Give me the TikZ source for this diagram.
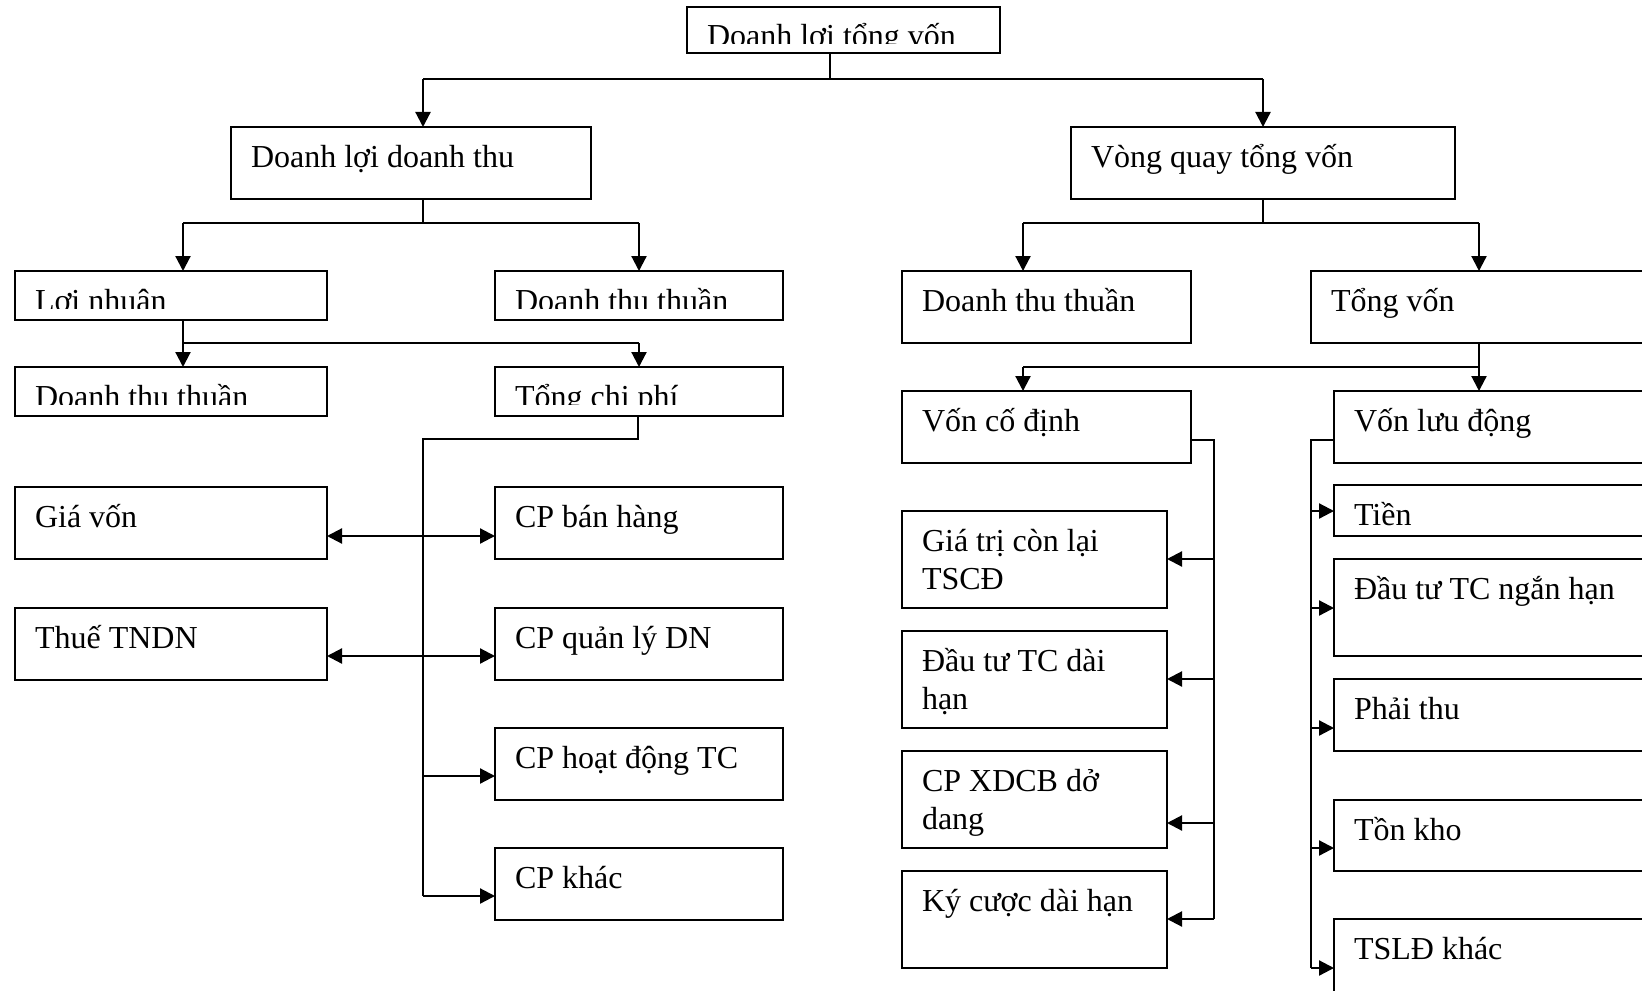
\documentclass[tikz,border=0pt]{standalone}
\usepackage{fontspec}
\setmainfont{Liberation Serif}
\usetikzlibrary{arrows.meta,calc}
\tikzset{
  box/.style={draw, line width=1pt, anchor=north west, inner sep=0pt, outer sep=0pt},
  lbl/.style={anchor=base west, inner sep=0pt, outer sep=0pt, font=\fontsize{16}{19}\selectfont},
  link/.style={line width=1.1pt},
  arr/.style={link, -{Triangle[length=7.5pt,width=7.5pt]}},
  darr/.style={link, {Triangle[length=7.5pt,width=7.5pt]}-{Triangle[length=7.5pt,width=7.5pt]}},
}
% box with its label: name, left, top, right, bottom, text
\newcommand\boxat[6]{%
  \node[box, minimum width={(#4-#2)*0.5pt}, minimum height={(#5-#3)*0.5pt}] (#1) at (#2,#3) {};
  \node[lbl] (#1-t) at ([shift={(20,40)}]#1.north west) {#6};
}
% same, but the label is cut off just above its baseline
\newcommand\cutboxat[6]{%
  \node[box, minimum width={(#4-#2)*0.5pt}, minimum height={(#5-#3)*0.5pt}] (#1) at (#2,#3) {};
  \begin{scope}
    \clip ([shift={(1,1)}]#1.north west) rectangle ([shift={(-1,37)}]#1.north east);
    \node[lbl] (#1-t) at ([shift={(20,40)}]#1.north west) {#6};
  \end{scope}
}
\begin{document}
\begin{tikzpicture}[x=0.5pt,y=-0.5pt]
\useasboundingbox (0,0) rectangle (1642,990);
\fill[white] (0,0) rectangle (1642,990);
\clip (0,0) rectangle (1642,990);

% ---- boxes ----
\cutboxat{top}{687}{7}{1000}{53}{Doanh lợi tổng vốn}
\boxat{dldt}{231}{127}{591}{199}{Doanh lợi doanh thu}
\boxat{vqtv}{1071}{127}{1455}{199}{Vòng quay tổng vốn}

\cutboxat{ln}{15}{271}{327}{320}{Lợi nhuận}
\cutboxat{dtt1}{495}{271}{783}{320}{Doanh thu thuần}
\cutboxat{dtt2}{15}{367}{327}{416}{Doanh thu thuần}
\cutboxat{tcp}{495}{367}{783}{416}{Tổng chi phí}

\boxat{gv}{15}{487}{327}{559}{Giá vốn}
\boxat{thue}{15}{608}{327}{680}{Thuế TNDN}
\boxat{cpbh}{495}{487}{783}{559}{CP bán hàng}
\boxat{cpql}{495}{608}{783}{680}{CP quản lý DN}
\boxat{cphd}{495}{728}{783}{800}{CP hoạt động TC}
\boxat{cpk}{495}{848}{783}{920}{CP khác}

\boxat{dtt3}{902}{271}{1191}{343}{Doanh thu thuần}
\boxat{tv}{1311}{271}{1700}{343}{Tổng vốn}
\boxat{vcd}{902}{391}{1191}{463}{Vốn cố định}
\boxat{vld}{1334}{391}{1700}{463}{Vốn lưu động}

\boxat{gtcl}{902}{511}{1167}{608}{\vtop{\hbox{Giá trị còn lại}\hbox{TSCĐ}}}
\boxat{dtdh}{902}{631}{1167}{728}{\vtop{\hbox{Đầu tư TC dài}\hbox{hạn}}}
\boxat{xdcb}{902}{751}{1167}{848}{\vtop{\hbox{CP XDCB dở}\hbox{dang}}}
\boxat{kc}{902}{871}{1167}{968}{Ký cược dài hạn}

\boxat{tien}{1334}{485}{1700}{536}{Tiền}
\boxat{dtnh}{1334}{559}{1700}{656}{Đầu tư TC ngắn hạn}
\boxat{pt}{1334}{679}{1700}{751}{Phải thu}
\boxat{tk}{1334}{800}{1700}{871}{Tồn kho}
\boxat{tsld}{1334}{919}{1700}{1040}{TSLĐ khác}

% ---- first level ----
\coordinate (s0) at (830,79);
\coordinate (s0l) at (423,79);
\coordinate (s0r) at (1263,79);
\draw[link] (s0 |- top.south) -- (s0);
\draw[link] (s0l) -- (s0r);
\draw[arr] (s0l) -- (s0l |- dldt.north);
\draw[arr] (s0r) -- (s0r |- vqtv.north);

% ---- left branch ----
\coordinate (s1) at (423,223);
\coordinate (s1l) at (183,223);
\coordinate (s1r) at (639,223);
\draw[link] (s1 |- dldt.south) -- (s1);
\draw[link] (s1l) -- (s1r);
\draw[arr] (s1l) -- (s1l |- ln.north);
\draw[arr] (s1r) -- (s1r |- dtt1.north);

\coordinate (s2) at (183,343);
\coordinate (s2r) at (639,343);
\draw[arr] (s2 |- ln.south) -- (s2 |- dtt2.north);
\draw[link] (s2) -- (s2r);
\draw[arr] (s2r) -- (s2r |- tcp.north);

\coordinate (s3) at (638,439);
\coordinate (s3l) at (423,439);
\coordinate (s3b) at (423,896);
\draw[link] (s3 |- tcp.south) -- (s3) -- (s3l) -- (s3b);
\coordinate (r1) at (423,536);
\coordinate (r2) at (423,656);
\coordinate (r3) at (423,776);
\draw[darr] (gv.east |- r1) -- (cpbh.west |- r1);
\draw[darr] (thue.east |- r2) -- (cpql.west |- r2);
\draw[arr] (r3) -- (cphd.west |- r3);
\draw[arr] (s3b) -- (cpk.west |- s3b);

% ---- right branch ----
\coordinate (t1) at (1263,223);
\coordinate (t1l) at (1023,223);
\coordinate (t1r) at (1479,223);
\draw[link] (t1 |- vqtv.south) -- (t1);
\draw[link] (t1l) -- (t1r);
\draw[arr] (t1l) -- (t1l |- dtt3.north);
\draw[arr] (t1r) -- (t1r |- tv.north);

\coordinate (t2) at (1479,367);
\coordinate (t2l) at (1023,367);
\draw[arr] (t2 |- tv.south) -- (t2 |- vld.north);
\draw[link] (t2) -- (t2l);
\draw[arr] (t2l) -- (t2l |- vcd.north);

% fixed capital
\coordinate (u0) at (1214,440);
\coordinate (u1) at (1214,559);
\coordinate (u2) at (1214,679);
\coordinate (u3) at (1214,823);
\coordinate (u4) at (1214,919);
\draw[link] (vcd.east |- u0) -- (u0) -- (u4);
\draw[arr] (u1) -- (gtcl.east |- u1);
\draw[arr] (u2) -- (dtdh.east |- u2);
\draw[arr] (u3) -- (xdcb.east |- u3);
\draw[arr] (u4) -- (kc.east |- u4);

% working capital
\coordinate (v0) at (1311,440);
\coordinate (v1) at (1311,511);
\coordinate (v2) at (1311,608);
\coordinate (v3) at (1311,728);
\coordinate (v4) at (1311,848);
\coordinate (v5) at (1311,968);
\draw[link] (vld.west |- v0) -- (v0) -- (v5);
\draw[arr] (v1) -- (tien.west |- v1);
\draw[arr] (v2) -- (dtnh.west |- v2);
\draw[arr] (v3) -- (pt.west |- v3);
\draw[arr] (v4) -- (tk.west |- v4);
\draw[arr] (v5) -- (tsld.west |- v5);
\end{tikzpicture}
\end{document}
